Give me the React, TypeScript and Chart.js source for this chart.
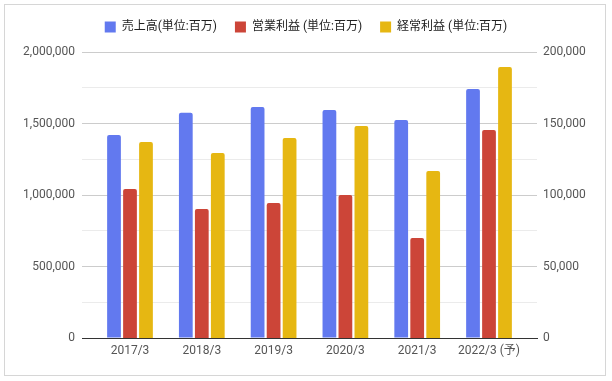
import React, { useEffect, useRef } from "react";
import { Chart, registerables } from "chart.js";

Chart.register(...registerables);

const categories = ["2017/3", "2018/3", "2019/3", "2020/3", "2021/3", "2022/3 (予)"];
const salesLabel = "売上高(単位:百万)";
const opProfitLabel = "営業利益 (単位:百万)";
const ordProfitLabel = "経常利益 (単位:百万)";
const sales = [1420000, 1575000, 1615000, 1594000, 1524000, 1741000];
const operatingProfit = [104200, 90200, 94400, 100000, 69900, 145500];
const ordinaryProfit = [137100, 129400, 139900, 148300, 116800, 189500];
const leftTicks = [0, 500000, 1000000, 1500000, 2000000];
const rightTicks = [0, 50000, 100000, 150000, 200000];

const FONT = "Roboto, 'Noto Sans CJK JP', Arial, sans-serif";
const X_MIN = -0.6685;
const X_MAX = 5.6685;

export default function App() {
  const ref = useRef<HTMLCanvasElement | null>(null);

  useEffect(() => {
    if (!ref.current) return;
    const legendPad = {
      id: "legendPad",
      beforeLayout(chart: any) {
        const lg = chart.legend;
        if (lg && !lg.__patched) {
          const fit = lg.fit;
          lg.fit = function () {
            fit.call(this);
            this.height = 49;
          };
          lg.__patched = true;
        }
      },
    };
    const toXY = (arr: number[]) => arr.map((v, i) => ({ x: i, y: v }));
    const common = {
      categoryPercentage: 0.668,
      barPercentage: 0.86,
      borderRadius: 2,
      borderWidth: 0,
    };
    const chart = new Chart(ref.current, {
      type: "bar",
      data: {
        datasets: [
          { ...common, label: salesLabel, data: toXY(sales), backgroundColor: "#6279ef", yAxisID: "y" },
          { ...common, label: opProfitLabel, data: toXY(operatingProfit), backgroundColor: "#cc4538", yAxisID: "y1" },
          { ...common, label: ordProfitLabel, data: toXY(ordinaryProfit), backgroundColor: "#e6b712", yAxisID: "y1" },
        ],
      } as any,
      options: {
        animation: false,
        responsive: false,
        devicePixelRatio: 1,
        layout: { padding: { top: 3, left: 0, right: 0, bottom: 0 } },
        plugins: {
          legend: {
            position: "top",
            labels: {
              boxWidth: 11,
              boxHeight: 11,
              padding: 18,
              color: "#222",
              font: { family: FONT, size: 12 },
            },
          },
          tooltip: { enabled: false },
        },
        scales: {
          x: {
            type: "linear",
            offset: false,
            bounds: "data",
            min: X_MIN,
            max: X_MAX,
            grid: { display: false, drawTicks: false, offset: false },
            border: { display: true, color: "#333", width: 1 },
            afterBuildTicks: (s: any) => {
              s.ticks = categories.map((_, i) => ({ value: i }));
              s.min = X_MIN;
              s.max = X_MAX;
            },
            afterFit: (s: any) => {
              s.height = 43;
            },
            ticks: {
              padding: 6,
              color: "#555",
              font: { family: FONT, size: 12 },
              maxRotation: 0,
              autoSkip: false,
              callback: (v: any) => categories[Math.round(Number(v))] ?? "",
            },
          },
          y: {
            position: "left",
            min: 0,
            max: 2000000,
            grid: {
              drawTicks: false,
              color: (ctx: any) =>
                ctx.tick && ctx.tick.value % 500000 === 0 ? "#cccccc" : "#ebebeb",
            },
            border: { display: false },
            afterBuildTicks: (s: any) => {
              const t: any[] = [];
              for (let v = 0; v <= 2000000; v += 250000) t.push({ value: v });
              s.ticks = t;
            },
            afterFit: (s: any) => {
              s.width = 82;
            },
            ticks: {
              padding: 7,
              color: "#555",
              font: { family: FONT, size: 12 },
              callback: (v: any) =>
                leftTicks.includes(Number(v)) ? Number(v).toLocaleString("en-US") : "",
            },
          },
          y1: {
            position: "right",
            min: 0,
            max: 200000,
            grid: { display: false, drawTicks: false },
            border: { display: false },
            afterBuildTicks: (s: any) => {
              s.ticks = rightTicks.map((v) => ({ value: v }));
            },
            afterFit: (s: any) => {
              s.width = 75;
            },
            ticks: {
              padding: 6,
              color: "#555",
              font: { family: FONT, size: 12 },
              callback: (v: any) => Number(v).toLocaleString("en-US"),
            },
          },
        },
      } as any,
      plugins: [legendPad],
    });
    return () => chart.destroy();
  }, []);

  return (
    <div style={{ position: "absolute", left: 0, top: 0, width: 612, height: 381, background: "#fff" }}>
      <canvas ref={ref} width={612} height={381} style={{ position: "absolute", left: 0, top: 0 }} />
      <div
        style={{
          position: "absolute",
          left: 4,
          top: 4,
          width: 602,
          height: 372,
          boxSizing: "border-box",
          border: "1px solid #d6d6d6",
          pointerEvents: "none",
        }}
      />
    </div>
  );
}
